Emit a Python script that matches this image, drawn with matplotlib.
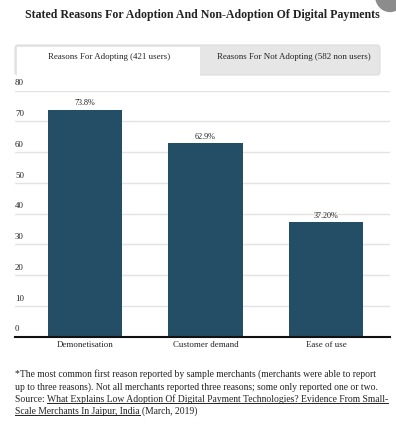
import matplotlib.pyplot as plt
import matplotlib.patches as mpatches
from matplotlib.transforms import blended_transform_factory

# Data
categories = ['Demonetisation', 'Customer demand', 'Ease of use']
values = [73.8, 62.9, 37.2]
value_labels = ['73.8%', '62.9%', '37.20%']
y_ticks = [0, 10, 20, 30, 40, 50, 60, 70, 80]
tabs = ['Reasons For Adopting (421 users)', 'Reasons For Not Adopting (582 non users)']

BAR_COLOR = '#244d66'
TXT = '#222222'
W, H = 396, 426
FOOT = 6.95

plt.rcParams['font.family'] = ['Liberation Serif', 'DejaVu Serif']

fig = plt.figure(figsize=(W / 100, H / 100), dpi=100)

def px(x, y):
    # pixel (from top-left) to figure fraction
    return x / W, 1 - y / H

# Title
fig.text(*px(202, 15), 'Stated Reasons For Adoption And Non-Adoption Of Digital Payments',
         ha='center', va='center', fontsize=8.6, fontweight='bold', color=TXT)

# Tabs
x0, y0 = px(15, 75)
outer = mpatches.FancyBboxPatch((x0, y0), 365 / W, 30 / H, boxstyle='round,pad=0,rounding_size=0.008',
                                transform=fig.transFigure, facecolor='#e6e6e6', edgecolor='#dddddd', lw=0.8)
fig.patches.append(outer)
lx, ly = px(17, 78)
left_tab = mpatches.Rectangle((lx, ly), 183 / W, 31 / H, transform=fig.transFigure,
                              facecolor='white', edgecolor='none')
fig.patches.append(left_tab)
fig.text(*px(109, 57), tabs[0], ha='center', va='center', fontsize=6.4, color=TXT)
fig.text(*px(294, 57), tabs[1], ha='center', va='center', fontsize=6.4, color=TXT)

# Axes
left, bottom = px(15, 336.5)
top = px(0, 90.5)[1]
ax = fig.add_axes([left, bottom, 375 / W, top - bottom])
x = range(len(categories))
ax.bar(x, values, width=0.615, color=BAR_COLOR, zorder=3)
ax.set_xlim(-0.58, 2.53)
ax.set_ylim(0, 80)
ax.set_yticks(y_ticks)
ax.set_yticklabels([])
ax.tick_params(axis='y', length=0)
ax.grid(axis='y', color='#e3e3e3', lw=1, zorder=0)
for s in ['top', 'right', 'left']:
    ax.spines[s].set_visible(False)
ax.spines['bottom'].set_color('#111111')
ax.spines['bottom'].set_linewidth(1.5)
ax.spines['bottom'].set_zorder(4)
ax.set_xticks(list(x))
ax.set_xticklabels(categories, fontsize=6.4, color=TXT)
ax.tick_params(axis='x', length=0, pad=3)

trans = blended_transform_factory(ax.transAxes, ax.transData)
for t in y_ticks:
    ax.text(0, t + 1.0, str(t), transform=trans, ha='left', va='bottom', fontsize=6.4, color=TXT)

for xi, v, lab in zip(x, values, value_labels):
    ax.text(xi, v + 0.8, lab, ha='center', va='bottom', fontsize=5.9, color=TXT)

# Footnote
foot = [
    '*The most common first reason reported by sample merchants (merchants were able to report',
    'up to three reasons). Not all merchants reported three reasons; some only reported one or two.',
]
fig.text(*px(15, 374), foot[0], ha='left', va='center', fontsize=FOOT, color=TXT)
fig.text(*px(15, 387), foot[1], ha='left', va='center', fontsize=FOOT, color=TXT)

t1 = fig.text(*px(15, 399), 'Source: ', ha='left', va='center', fontsize=FOOT, color=TXT)
fig.canvas.draw()
r = fig.canvas.get_renderer()
bb = t1.get_window_extent(r)
link1 = fig.text(bb.x1 / W, px(0, 399)[1], 'What Explains Low Adoption Of Digital Payment Technologies? Evidence From Small-',
                 ha='left', va='center', fontsize=FOOT, color=TXT)
link2 = fig.text(*px(15, 411), 'Scale Merchants In Jaipur, India', ha='left', va='center',
                 fontsize=FOOT, color=TXT)
fig.canvas.draw()
b1 = link1.get_window_extent(r)
b2 = link2.get_window_extent(r)
fig.text(b2.x1 / W + 2 / W, px(0, 411)[1], '(March, 2019)', ha='left', va='center',
         fontsize=FOOT, color=TXT)
for b, yy in [(b1, 403), (b2, 415)]:
    fig.add_artist(plt.Line2D([b.x0 / W, b.x1 / W], [px(0, yy)[1]] * 2, color=TXT, lw=0.7))

# grey circle in the corner
circ = mpatches.Circle(px(390, -4), 15 / W, transform=fig.transFigure, facecolor='#8c8c8c', edgecolor='none')
fig.patches.append(circ)

fig.savefig('out.png', dpi=100)
